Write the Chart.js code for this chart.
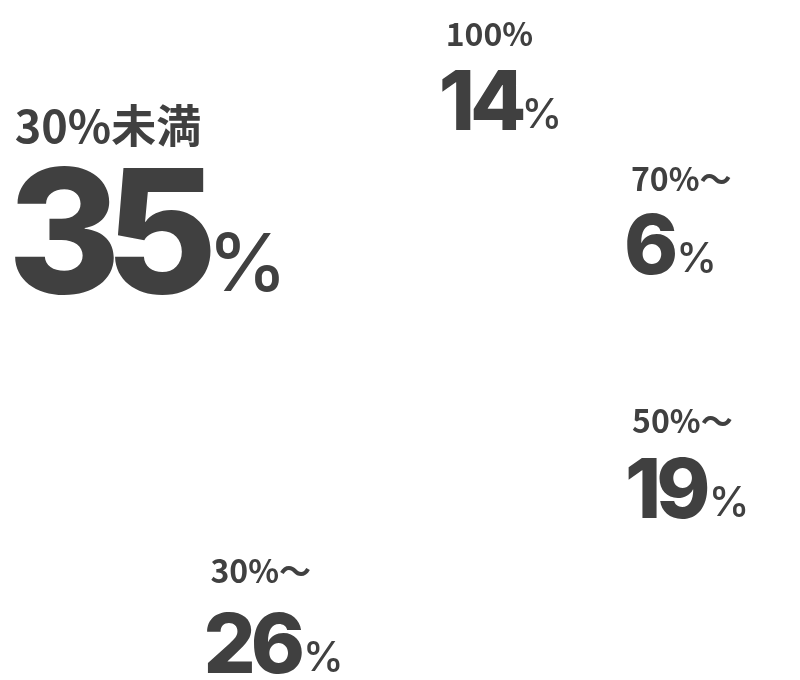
<!DOCTYPE html>
<html><head><meta charset="utf-8">
<script src="https://cdn.jsdelivr.net/npm/chart.js@4"></script>
<style>html,body{margin:0;padding:0;background:#fff}canvas{display:block}</style>
</head><body>
<canvas id="c" width="800" height="680"></canvas>
<script>
const categories = ['100%', '70%～', '50%～', '30%～', '30%未満'];
const shares = [14, 6, 19, 26, 35];

const TEXT = '#404040';
// per-slice layout: nudge of the text block (left x, small-label baseline) from the arc point
const layout = [
  {dx: -85, dy: -23, big: 82, ls: -0.06, pct: 41, pg: 0, small: 32, gap: 84},
  {dx: -35, dy: -4,  big: 82, ls: -0.06, pct: 41, pg: 3, small: 32, gap: 83},
  {dx: -59, dy: 9,   big: 82, ls: -0.06, pct: 41, pg: 3, small: 32, gap: 85},
  {dx: -155, dy: -55, big: 82, ls: -0.06, pct: 41, pg: 3, small: 32, gap: 90},
  {dx: -121, dy: -61, big: 172, ls: -0.09, pct: 80, pg: 6, small: 45, gap: 150}
];

const labelPlugin = {
  id: 'labels',
  afterDatasetsDraw(chart) {
    const ctx = chart.ctx;
    const meta = chart.getDatasetMeta(0);
    meta.data.forEach((arc, i) => {
      const p = arc.getProps(['x', 'y', 'startAngle', 'endAngle', 'outerRadius'], true);
      const mid = (p.startAngle + p.endAngle) / 2;
      const r = p.outerRadius * 300 / 340;
      const L = layout[i];
      const x = p.x + Math.cos(mid) * r + L.dx;
      const y = p.y + Math.sin(mid) * r + L.dy;
      ctx.save();
      ctx.fillStyle = TEXT;
      ctx.textAlign = 'left';
      ctx.textBaseline = 'alphabetic';
      ctx.font = `700 ${L.small}px "Noto Sans CJK JP"`;
      ctx.fillText(categories[i], x + 3, y);
      ctx.font = `800 ${L.big}px Inter`;
      ctx.letterSpacing = (L.big * L.ls) + 'px';
      const num = String(chart.data.datasets[0].data[i]);
      ctx.fillText(num, x - 4, y + L.gap);
      const w = ctx.measureText(num).width;
      ctx.letterSpacing = '0px';
      ctx.font = `500 ${L.pct}px Inter`;
      ctx.fillText('%', x - 4 + w + L.pg, y + L.gap - 2);
      ctx.restore();
    });
  }
};

new Chart(document.getElementById('c'), {
  type: 'pie',
  data: {
    labels: categories,
    datasets: [{
      data: shares,
      backgroundColor: '#ffffff',
      borderWidth: 0,
      hoverOffset: 0
    }]
  },
  options: {
    responsive: false,
    animation: false,
    layout: {padding: 0},
    plugins: {legend: {display: false}, tooltip: {enabled: false}}
  },
  plugins: [labelPlugin]
});
</script>
</body></html>
